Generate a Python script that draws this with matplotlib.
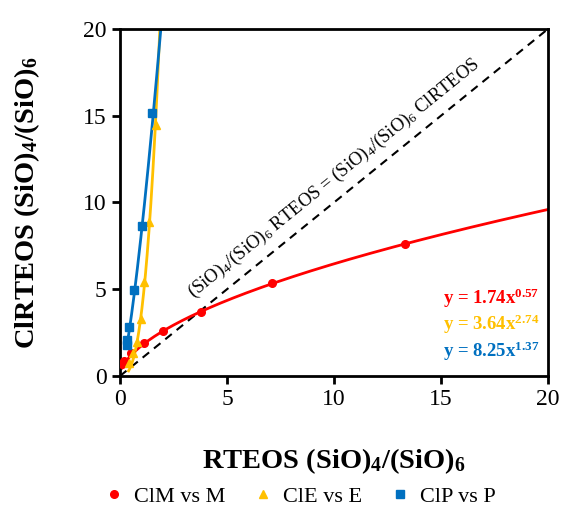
import numpy as np
import matplotlib
matplotlib.use("Agg")
import matplotlib.pyplot as plt

plt.rcParams['font.family'] = ['Liberation Serif', 'DejaVu Serif']
plt.rcParams['mathtext.fontset'] = 'custom'
plt.rcParams['mathtext.rm'] = 'Liberation Serif'
plt.rcParams['mathtext.it'] = 'Liberation Serif:italic'
plt.rcParams['mathtext.bf'] = 'Liberation Serif:bold'

# data
m_x = [0.1, 0.2, 0.5, 1.1, 2.0, 3.8, 7.1, 13.3]
m_y = [0.7, 0.85, 1.3, 1.88, 2.61, 3.71, 5.34, 7.61]
e_x = [0.4, 0.62, 0.78, 0.97, 1.14, 1.37, 1.67]
e_y = [0.75, 1.31, 1.98, 3.27, 5.43, 8.9, 14.47]
p_x = [0.33, 0.34, 0.44, 0.65, 1.01, 1.48]
p_y = [1.8, 2.07, 2.84, 4.96, 8.66, 15.14]

# power-law fits y = a x^b
m_fit = (1.74, 0.57)
e_fit = (3.64, 2.74)
p_fit = (8.25, 1.37)

red = '#FF0000'
yellow = '#FFC000'
blue = '#0070C0'

fig = plt.figure(figsize=(5.62, 5.12), dpi=100)
ax = fig.add_axes([0.2135, 0.2656, 0.7615, 0.6778])

# 1:1 line
ax.plot([0, 20], [0, 20], color='black', ls=(0, (4, 3)), lw=1.5, zorder=1)

def fit_line(xs, a, b):
    x0 = min(xs)
    x1 = min(20, (20.0 / a) ** (1.0 / b))
    xx = np.linspace(x0, x1, 200)
    return xx, a * xx ** b

for xs, ys, fit, col, mk, lab in [
        (m_x, m_y, m_fit, red, 'o', 'ClM vs M'),
        (e_x, e_y, e_fit, yellow, '^', 'ClE vs E'),
        (p_x, p_y, p_fit, blue, 's', 'ClP vs P')]:
    xx, yy = fit_line(xs, *fit)
    ax.plot(xx, yy, color=col, lw=2, zorder=2)
    ax.plot(xs, ys, ls='none', marker=mk, color=col, ms=5.5, label=lab, zorder=3)

ax.set_xlim(0, 20)
ax.set_ylim(0, 20)
ax.set_xticks([0, 5, 10, 15, 20])
ax.set_yticks([0, 5, 10, 15, 20])
ax.tick_params(labelsize=17, width=2, length=6, direction='out')
for s in ax.spines.values():
    s.set_linewidth(2)

ax.set_xlabel(r'RTEOS (SiO)$_\mathbf{4}$/(SiO)$_\mathbf{6}$', fontsize=20.5,
              fontweight='bold', labelpad=26)
ax.set_ylabel(r'ClRTEOS (SiO)$_\mathbf{4}$/(SiO)$_\mathbf{6}$', fontsize=20.5,
              fontweight='bold', labelpad=30)

ax.text(3.6, 4.2, r'(SiO)$_4$/(SiO)$_6$ RTEOS = (SiO)$_4$/(SiO)$_6$ ClRTEOS',
        fontsize=13.4, rotation=39, rotation_mode='anchor', ha='left', va='bottom')

eqs = [(m_fit, red, 4.5), (e_fit, yellow, 3.0), (p_fit, blue, 1.4)]
for (a, b), col, yy in eqs:
    ax.text(19.6, yy, r'y = %.2fx$^{\mathbf{%.2f}}$' % (a, b), color=col,
            fontsize=13.5, fontweight='bold', ha='right', va='center')

fig.legend(loc='center', bbox_to_anchor=(0.535, 0.03), ncol=3, frameon=False,
           fontsize=16, handlelength=0.8, handletextpad=0.5, columnspacing=1.3)

fig.savefig('out.png', dpi=100)
